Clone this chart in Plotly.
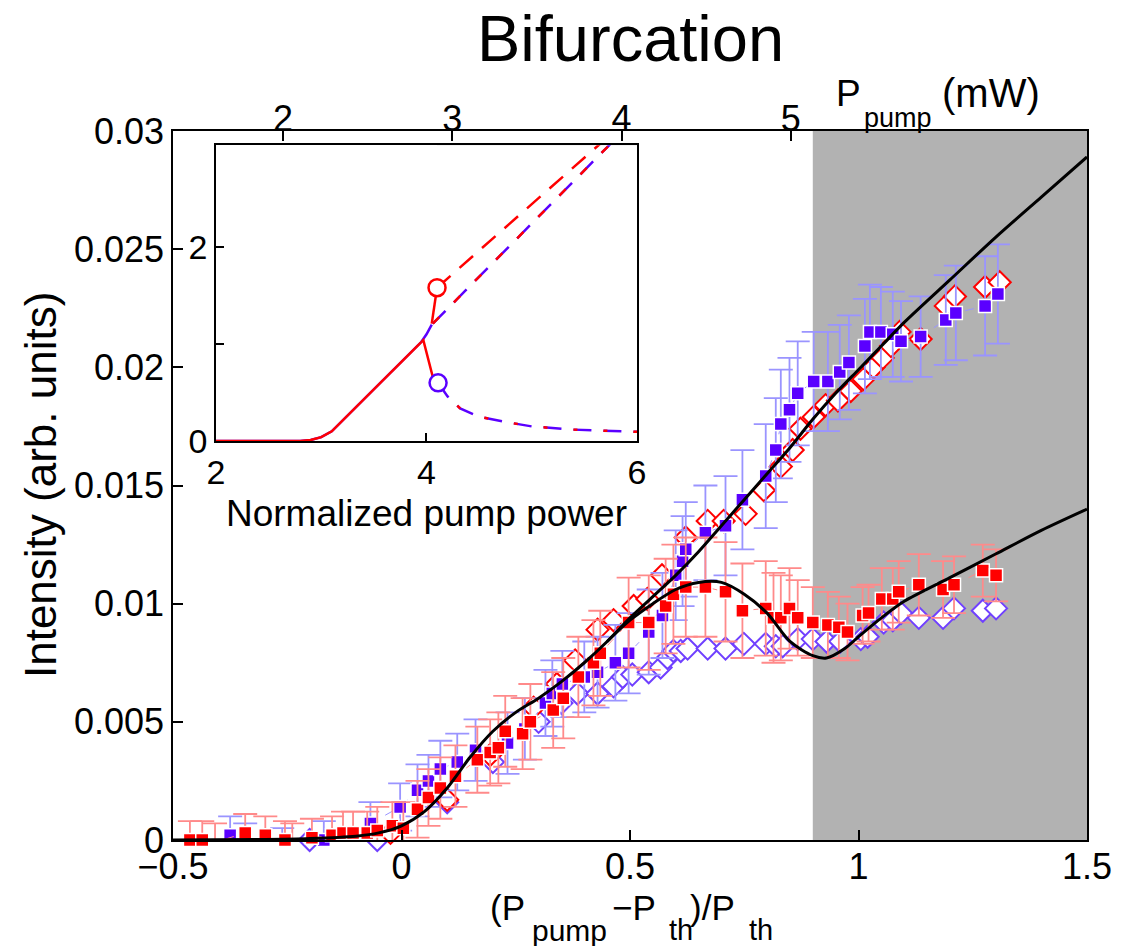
import plotly.graph_objects as go

# ---------------- main data ----------------
# blue filled squares (with blue error bars)
A_x = [-0.375,-0.342,-0.261,-0.17,-0.068,-0.003,0.035,0.059,0.085,0.122,0.162,0.232,0.27,0.315,0.33,0.352,0.40,0.429,0.468,0.497,0.541,0.571,0.600,0.615,0.622,0.665,0.709,0.746,0.797,0.819,0.830,0.849,0.867,0.902,0.933,0.959,0.979,1.014,1.025,1.049,1.075,1.093,1.136,1.191,1.213,1.277,1.305]
A_y = [0.0002,-0.0001,-0.0002,0.0000,0.0007,0.0014,0.0021,0.0025,0.0030,0.0033,0.0038,0.0041,0.0047,0.0058,0.0062,0.0066,0.0069,0.0071,0.0075,0.0079,0.0088,0.0095,0.0112,0.0118,0.0123,0.0130,0.0133,0.0144,0.0154,0.0165,0.0176,0.0182,0.0189,0.0194,0.0194,0.0198,0.0202,0.0209,0.0215,0.0215,0.0214,0.0211,0.0213,0.0220,0.0223,0.0226,0.0231]
A_err = [0.0008,0.0008,0.0007,0.0008,0.0009,0.0010,0.0011,0.0011,0.0012,0.0012,0.0013,0.0013,0.0013,0.0014,0.0014,0.0014,0.0015,0.0015,0.0016,0.0017,0.0018,0.0018,0.0019,0.0019,0.0020,0.0020,0.0021,0.0021,0.0022,0.0022,0.0023,0.0022,0.0022,0.0021,0.0021,0.0020,0.0020,0.0020,0.0020,0.0019,0.0018,0.0017,0.0017,0.0019,0.0020,0.0021,0.0021]

# red filled squares (with red error bars)
C_x = [-0.463,-0.436,-0.408,-0.342,-0.298,-0.255,-0.239,-0.196,-0.152,-0.128,-0.106,-0.075,-0.053,-0.020,0.004,0.035,0.059,0.085,0.118,0.166,0.194,0.212,0.227,0.265,0.282,0.332,0.354,0.387,0.420,0.435,0.497,0.541,0.578,0.595,0.622,0.665,0.709,0.746,0.797,0.814,0.830,0.849,0.867,0.900,0.933,0.957,0.976,1.009,1.022,1.051,1.075,1.088,1.132,1.185,1.209,1.272,1.301]
C_y = [0.0000,0.0000,-0.0001,0.0003,0.0002,0.0000,-0.0001,0.0001,0.0002,0.0003,0.0003,0.0003,0.0004,0.0006,0.0005,0.0013,0.0018,0.0022,0.0027,0.0034,0.0037,0.0039,0.0046,0.0045,0.0050,0.0055,0.0060,0.0069,0.0075,0.0079,0.0092,0.0092,0.0099,0.0104,0.0107,0.0107,0.0105,0.0097,0.0098,0.0094,0.0094,0.0098,0.0094,0.0092,0.0091,0.0090,0.0088,0.0095,0.0096,0.0102,0.0102,0.0105,0.0108,0.0106,0.0108,0.0114,0.0112]
C_err = [0.0008,0.0008,0.0008,0.0008,0.0008,0.0008,0.0008,0.0008,0.0008,0.0009,0.0009,0.0009,0.0010,0.0010,0.0011,0.0012,0.0012,0.0013,0.0013,0.0014,0.0014,0.0015,0.0015,0.0015,0.0016,0.0016,0.0017,0.0017,0.0018,0.0018,0.0019,0.0020,0.0020,0.0021,0.0021,0.0021,0.0021,0.0020,0.0020,0.0019,0.0018,0.0017,0.0016,0.0015,0.0014,0.0013,0.0012,0.0012,0.0012,0.0013,0.0013,0.0013,0.0013,0.0012,0.0012,0.0011,0.0011]

# red open diamonds
B_x = [-0.478,-0.434,-0.375,-0.303,-0.172,-0.112,-0.053,-0.024,0.10,0.194,0.289,0.34,0.38,0.429,0.464,0.508,0.538,0.57,0.622,0.67,0.705,0.753,0.793,0.83,0.856,0.873,0.902,0.928,0.955,0.983,1.011,1.033,1.053,1.071,1.09,1.136,1.191,1.211,1.277,1.309]
B_y = [-0.0001,-0.0002,-0.0001,-0.0002,-0.0002,-0.0001,-0.0001,0.0003,0.0017,0.0036,0.0056,0.0066,0.0076,0.0089,0.0093,0.0099,0.0102,0.0112,0.0128,0.0135,0.0135,0.0138,0.0148,0.0158,0.0165,0.0174,0.0179,0.0184,0.0186,0.0190,0.0195,0.0200,0.0204,0.0209,0.0215,0.0212,0.0226,0.0230,0.0234,0.0236]

# blue open diamonds
D_x = [-0.342,-0.298,-0.201,-0.172,-0.112,-0.053,0.10,0.20,0.30,0.35,0.385,0.429,0.464,0.484,0.505,0.541,0.567,0.582,0.595,0.611,0.626,0.670,0.709,0.749,0.797,0.819,0.834,0.867,0.90,0.93,0.96,1.005,1.020,1.055,1.075,1.093,1.132,1.185,1.209,1.272,1.301]
D_y = [-0.0002,-0.0002,0.0000,-0.0002,-0.0002,0.0000,0.0016,0.0033,0.0050,0.0058,0.0062,0.0062,0.0065,0.0069,0.0070,0.0071,0.0073,0.0077,0.0080,0.0080,0.0081,0.0081,0.0081,0.0083,0.0083,0.0082,0.0082,0.0085,0.0085,0.0084,0.0084,0.0085,0.0086,0.0092,0.0093,0.0096,0.0094,0.0094,0.0098,0.0097,0.0098]

# theory curves
T_up_x = [-0.5,-0.3,-0.2,-0.1,-0.05,0.0,0.05,0.1,0.15,0.2,0.25,0.3,0.35,0.4,0.45,0.5,0.55,0.6,0.65,0.7,0.75,0.8,0.85,0.9,0.95,1.0,1.05,1.1,1.2,1.3,1.4,1.5]
T_up_y = [0.0,0.00002,0.00006,0.00016,0.0003,0.0006,0.0012,0.0022,0.0035,0.0046,0.0054,0.0060,0.0067,0.0075,0.0084,0.0094,0.0103,0.0112,0.0122,0.0133,0.0144,0.0155,0.0166,0.0178,0.0189,0.0199,0.0209,0.0219,0.0237,0.0255,0.0272,0.0289]
T_lo_x = [0.45,0.5,0.55,0.6,0.65,0.7,0.75,0.8,0.85,0.9,0.93,0.97,1.0,1.05,1.1,1.2,1.3,1.4,1.5]
T_lo_y = [0.0084,0.0093,0.0100,0.0106,0.0109,0.0109,0.0104,0.0096,0.0084,0.0078,0.0077,0.0081,0.0086,0.0094,0.0101,0.0111,0.0121,0.0131,0.0140]

shade_main = [0.9, 1.5]
x_ticks = [-0.5, 0, 0.5, 1, 1.5]
x_ticktext = ["\u22120.5", "0", "0.5", "1", "1.5"]
y_ticks = [0, 0.005, 0.01, 0.015, 0.02, 0.025, 0.03]
y_ticktext = ["0", "0.005", "0.01", "0.015", "0.02", "0.025", "0.03"]
P_th = 2.7
top_ticks = [2, 3, 4, 5]

# ---------------- inset data ----------------
I_common_x = [2.0, 2.8, 2.9, 3.0, 3.1, 3.5, 3.95]
I_common_y = [0.0, 0.0, 0.01, 0.04, 0.1, 0.53, 1.02]
I_blue_up_x = [3.95, 4.0, 4.05]
I_blue_up_y = [1.02, 1.1, 1.2]
I_blue_lo_x = [4.06, 4.11]
I_blue_lo_y = [0.67, 0.60]
I_red_pk_x = [3.95, 3.97, 4.06]
I_red_pk_y = [1.02, 1.04, 0.66]
I_red_up_x = [4.05, 4.07, 4.1]
I_red_up_y = [1.21, 1.35, 1.58]
I_dash_up_x = [4.1, 4.98, 5.57, 6.0]
I_dash_up_y = [1.58, 2.43, 2.99, 3.40]
I_dash_mid_x = [4.06, 5.0, 5.68, 6.0]
I_dash_mid_y = [1.21, 2.24, 2.99, 3.34]
I_dash_lo_x = [4.11, 4.2, 4.32, 4.5, 4.73, 5.0, 5.37, 6.0]
I_dash_lo_y = [0.60, 0.46, 0.336, 0.25, 0.20, 0.15, 0.118, 0.094]
I_circ_red = ([4.1], [1.58])
I_circ_blue = ([4.11], [0.60])
shade_inset = [4.1, 6.0]

BLUE = "#5a00ff"
BLUE_L = "#9a94ff"
RED = "#ff0000"
RED_L = "#ff8a8a"
FONT = "Liberation Sans"

fig = go.Figure()

fig.add_trace(go.Scatter(x=D_x, y=D_y, mode="markers", cliponaxis=False,
    marker=dict(symbol="diamond", size=17, color="white", line=dict(color="#7040ff", width=2))))
fig.add_trace(go.Scatter(x=B_x, y=B_y, mode="markers", cliponaxis=False,
    marker=dict(symbol="diamond", size=17, color="white", line=dict(color=RED, width=2))))
fig.add_trace(go.Scatter(x=A_x, y=A_y, mode="lines+markers", cliponaxis=False,
    line=dict(color=BLUE_L, width=1, dash="dash"),
    error_y=dict(type="data", array=A_err, color=BLUE_L, thickness=1.8, width=12),
    marker=dict(symbol="square", size=13, color=BLUE, line=dict(color="white", width=1.5))))
fig.add_trace(go.Scatter(x=C_x, y=C_y, mode="lines+markers", cliponaxis=False,
    line=dict(color=RED_L, width=1, dash="dash"),
    error_y=dict(type="data", array=C_err, color=RED_L, thickness=1.8, width=12),
    marker=dict(symbol="square", size=13, color=RED, line=dict(color="white", width=1.5))))
fig.add_trace(go.Scatter(x=T_up_x, y=T_up_y, mode="lines",
    line=dict(color="black", width=3, shape="spline", smoothing=0.8)))
fig.add_trace(go.Scatter(x=T_lo_x, y=T_lo_y, mode="lines",
    line=dict(color="black", width=3, shape="spline", smoothing=0.8)))

fig.add_trace(go.Scatter(x=[top_ticks[0]], y=[0], xaxis="x2", yaxis="y", mode="markers",
    marker=dict(opacity=0), hoverinfo="skip"))

def inset(x, y, color, dash="solid", width=2.5):
    fig.add_trace(go.Scatter(x=x, y=y, xaxis="x3", yaxis="y3", mode="lines",
        line=dict(color=color, width=width, dash=dash)))

inset(I_common_x + I_blue_up_x[1:], I_common_y + I_blue_up_y[1:], BLUE)
inset(I_blue_lo_x, I_blue_lo_y, BLUE)
inset(I_common_x, I_common_y, RED)
inset(I_red_pk_x, I_red_pk_y, RED)
inset(I_red_up_x, I_red_up_y, RED)
inset(I_dash_up_x, I_dash_up_y, RED, dash="18px,12px")
inset(I_dash_mid_x, I_dash_mid_y, BLUE, dash="18px,12px")
inset(I_dash_mid_x, I_dash_mid_y, RED, dash="9px,21px")
inset(I_dash_lo_x, I_dash_lo_y, BLUE, dash="18px,12px")
inset(I_dash_lo_x, I_dash_lo_y, RED, dash="4px,26px")
fig.add_trace(go.Scatter(x=I_circ_red[0], y=I_circ_red[1], xaxis="x3", yaxis="y3", mode="markers",
    cliponaxis=False, marker=dict(symbol="circle", size=17, color="white", line=dict(color=RED, width=2.5))))
fig.add_trace(go.Scatter(x=I_circ_blue[0], y=I_circ_blue[1], xaxis="x3", yaxis="y3", mode="markers",
    cliponaxis=False, marker=dict(symbol="circle", size=17, color="white", line=dict(color=BLUE, width=2.5))))

fig.add_shape(type="rect", xref="x", yref="y domain", x0=shade_main[0], x1=shade_main[1], y0=0, y1=1,
              fillcolor="#b2b2b2", line=dict(width=0), layer="below")
fig.add_shape(type="rect", xref="x3", yref="y3 domain", x0=shade_inset[0], x1=shade_inset[1], y0=0, y1=1,
              fillcolor="#b2b2b2", line=dict(width=0), layer="below")

axis_common = dict(showgrid=False, zeroline=False, showline=True, linecolor="black", linewidth=1.5,
                   ticks="inside", tickcolor="black", tickwidth=1.5,
                   tickfont=dict(family=FONT, size=36, color="black"))

fig.update_layout(
    width=1123, height=946,
    margin=dict(l=173, r=36, t=131, b=106),
    paper_bgcolor="white", plot_bgcolor="white",
    showlegend=False,
    xaxis=dict(axis_common, range=[-0.5, 1.5], tickvals=x_ticks, ticktext=x_ticktext, mirror=True,
               ticklen=10, ticklabelstandoff=-6),
    yaxis=dict(axis_common, range=[0, 0.03], tickvals=y_ticks, ticktext=y_ticktext, mirror=True,
               ticklen=10, ticklabelstandoff=0),
    xaxis2=dict(axis_common, overlaying="x", side="top", anchor="y",
                range=[P_th * 0.5, P_th * 2.5], tickvals=top_ticks, showline=False, ticklen=10,
                ticklabelstandoff=-8),
    xaxis3=dict(axis_common, domain=[0.047, 0.5077], anchor="y3", range=[2, 6], tickvals=[2, 4, 6],
                mirror=True, ticklen=8, tickfont=dict(family=FONT, size=34, color="black")),
    yaxis3=dict(axis_common, domain=[0.5628, 0.980], anchor="x3", range=[0, 3.05], tickvals=[0, 1, 2],
                ticktext=["0", "", "2"], mirror=True, ticklen=8, tickfont=dict(family=FONT, size=34, color="black")),
)

ann_font = dict(family=FONT, color="black")

def txt(t, x, y, size, xanchor="left", angle=0):
    fig.add_annotation(text=t, xref="paper", yref="paper", x=x, y=y, showarrow=False,
                       xanchor=xanchor, yanchor="middle", textangle=angle, font=dict(ann_font, size=size))

txt("Bifurcation", 0.5, 1.13, 65, xanchor="center")
# top axis title  P_pump (mW)
txt("P", 0.7235, 1.053, 37)
txt("pump", 0.7535, 1.019, 27)
txt("(mW)", 0.8395, 1.053, 40)
# bottom axis title (P_pump - P_th)/P_th
txt("(P", 0.3446, -0.0945, 35)
txt("pump", 0.3906, -0.127, 30)
txt("\u2212P", 0.4781, -0.0945, 35)
txt("th", 0.5405, -0.127, 29)
txt(")/P", 0.5635, -0.0945, 35)
txt("th", 0.628, -0.127, 29)
txt("Intensity (arb. units)", -0.1455, 0.5007, 44, xanchor="center", angle=-90)
txt("Normalized pump power", 0.277, 0.46, 37, xanchor="center")

fig.write_html("out.html")
